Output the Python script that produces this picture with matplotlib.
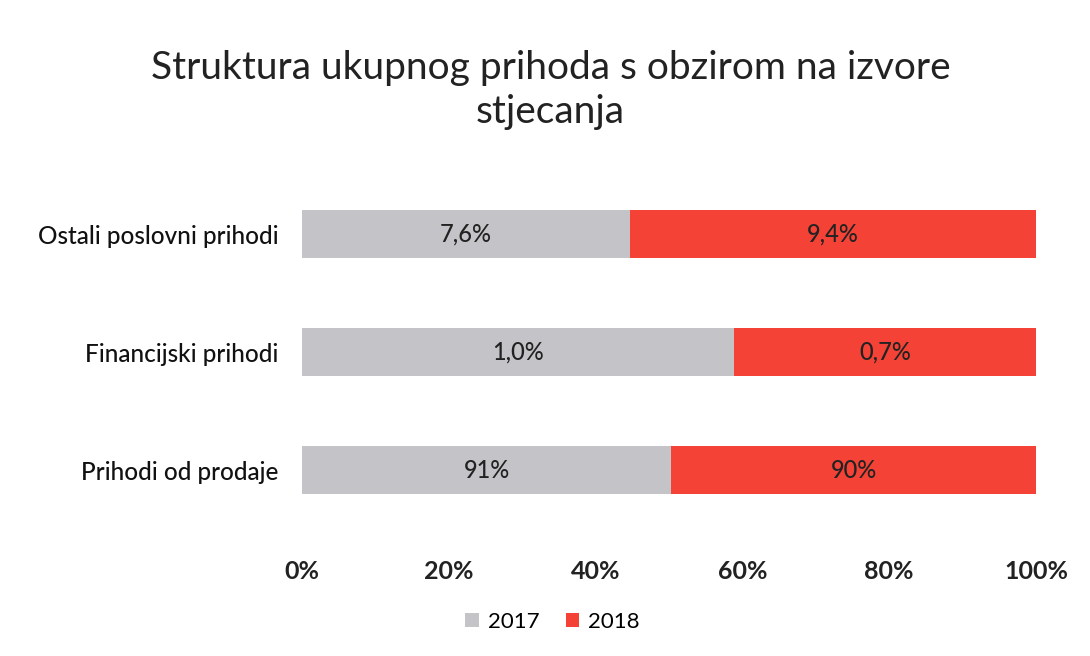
import matplotlib
matplotlib.use("Agg")
import matplotlib.pyplot as plt
import numpy as np

plt.rcParams["font.family"] = ["Lato", "DejaVu Sans"]

# data (shares of total income)
categories = ["Prihodi od prodaje", "Financijski prihodi", "Ostali poslovni prihodi"]
v2017 = [91.0, 1.0, 7.6]
v2018 = [90.0, 0.7, 9.4]
lab2017 = ["91%", "1,0%", "7,6%"]
lab2018 = ["90%", "0,7%", "9,4%"]

c2017 = "#c4c3c7"
c2018 = "#f44336"

a = np.array(v2017)
b = np.array(v2018)
tot = a + b
p17 = a / tot
p18 = b / tot
y = np.arange(len(categories))

fig = plt.figure(figsize=(10.9, 6.56), dpi=100)
ax = fig.add_axes([302 / 1090, 1 - 529 / 656, 734 / 1090, 354 / 656])

bars1 = ax.barh(y, p17, height=0.41, color=c2017, label="2017")
bars2 = ax.barh(y, p18, left=p17, height=0.41, color=c2018, label="2018")

for i in range(len(y)):
    ax.text(p17[i] / 2, y[i], lab2017[i], ha="center", va="center",
            fontsize=17, color="#222222", fontweight="medium")
    ax.text(p17[i] + p18[i] / 2, y[i], lab2018[i], ha="center", va="center",
            fontsize=17, color="#222222", fontweight="medium")

ax.set_xlim(0, 1)
ax.set_ylim(-0.5, 2.5)
ax.set_xticks([0, 0.2, 0.4, 0.6, 0.8, 1.0])
ax.set_xticklabels(["0%", "20%", "40%", "60%", "80%", "100%"], fontsize=18,
                   fontweight="bold", color="#222222")
ax.set_yticks(y)
ax.set_yticklabels(categories, fontsize=17.5, color="#111111", fontweight="medium")
ax.tick_params(axis="both", length=0)
ax.tick_params(axis="x", pad=22)
ax.tick_params(axis="y", pad=17)
for s in ax.spines.values():
    s.set_visible(False)

fig.text(0.505, 1 - 90 / 656, "Struktura ukupnog prihoda s obzirom na izvore\nstjecanja",
         ha="center", va="center", fontsize=28, color="#222222", linespacing=1.3)

fig.legend(handles=[bars1, bars2], labels=["2017", "2018"], loc="center",
           bbox_to_anchor=(0.507, 1 - 622 / 656), ncol=2, frameon=False,
           fontsize=16, handlelength=0.6, handleheight=0.6, columnspacing=1.2,
           handletextpad=0.4)

fig.savefig("out.png", dpi=100, facecolor="white")
